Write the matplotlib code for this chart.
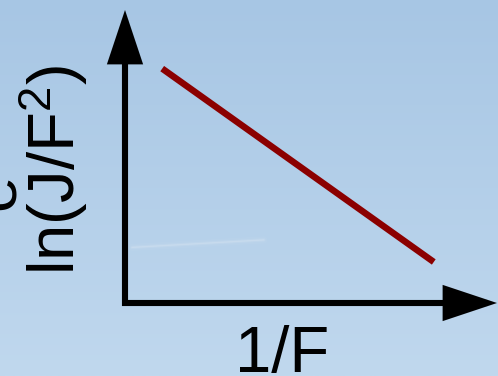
import numpy as np
import matplotlib
matplotlib.use("Agg")
import matplotlib.pyplot as plt

plt.rcParams["font.family"] = ["Liberation Sans", "DejaVu Sans"]
plt.rcParams["mathtext.fontset"] = "custom"
plt.rcParams["mathtext.rm"] = "Liberation Sans"
plt.rcParams["mathtext.default"] = "regular"

# Fowler-Nordheim style sketch: ln(J/F^2) falls linearly with 1/F
inv_F = [0.10, 0.83]
ln_J_F2 = [0.80, 0.14]

x_label = "1/F"
y_label = "ln(J/F$^{2}$)"

W, H = 498, 376
fig = plt.figure(figsize=(W / 100, H / 100), dpi=100)

# sky-blue gradient backdrop
bg = fig.add_axes([0, 0, 1, 1])
top = np.array([167, 198, 228]) / 255
bottom = np.array([192, 216, 238]) / 255
t = np.linspace(0, 1, H)[:, None, None]
grad = top * (1 - t) + bottom * t
grad = np.repeat(grad, W, axis=1)
bg.imshow(grad, aspect="auto", extent=(0, 1, 0, 1), origin="upper")
# faint contrail streak
for lw, a in [(5, 0.04), (2.5, 0.08), (1.0, 0.14)]:
    bg.plot([0.265, 0.53], [0.342, 0.362], color="white", lw=lw, alpha=a,
            solid_capstyle="round")
bg.set_xlim(0, 1)
bg.set_ylim(0, 1)
bg.axis("off")

# plot area: origin at the corner of the two arrows
x0, y0 = 125, 303
ax = fig.add_axes([x0 / W, 1 - y0 / H, (W - 1 - x0) / W, (y0 - 10) / H])
ax.set_xlim(0, 1)
ax.set_ylim(0, 1)
ax.axis("off")
ax.patch.set_alpha(0)

ax.plot(inv_F, ln_J_F2, color="#8b0000", lw=4.7, solid_capstyle="butt")

arrow = dict(arrowstyle="-|>,head_length=3.0,head_width=1.0", lw=4.4,
             color="black", shrinkA=0, shrinkB=0, mutation_scale=10,
             joinstyle="miter", capstyle="butt")
dx = 3 / (W - 1 - x0)
dy = 3 / (y0 - 10)
ax.annotate("", xy=(0, 1), xytext=(0, -dy), xycoords="axes fraction",
            arrowprops=arrow, annotation_clip=False)
ax.annotate("", xy=(1, 0), xytext=(-dx, 0), xycoords="axes fraction",
            arrowprops=arrow, annotation_clip=False)

fig.text(282 / W, 1 - 372 / H, x_label, fontsize=47, ha="center",
         va="baseline")
fig.text(75 / W, 1 - 170 / H, y_label, fontsize=47, rotation=90,
         rotation_mode="anchor", ha="center", va="baseline")
fig.text(15 / W, 1 - 192 / H, "e", fontsize=47, rotation=90,
         rotation_mode="anchor", ha="center", va="baseline")

fig.savefig("out.png", dpi=100)
